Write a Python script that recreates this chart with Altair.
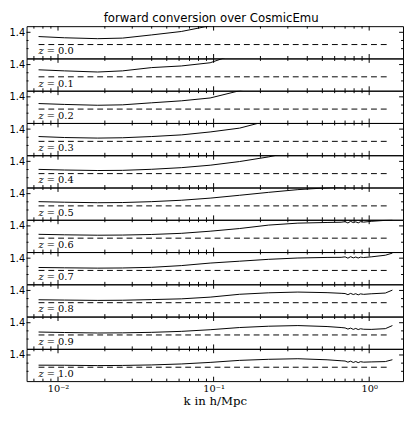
import altair as alt
import pandas as pd

TITLE = "forward conversion over CosmicEmu"
X_TITLE = "k in h/Mpc"
Z_LABELS = ["0.0", "0.1", "0.2", "0.3", "0.4", "0.5", "0.6", "0.7", "0.8", "0.9", "1.0"]

# wavenumbers (h/Mpc) at which the ratio curves were read
K = [0.0075, 0.011, 0.018, 0.026, 0.040, 0.062, 0.095, 0.147, 0.226, 0.348, 0.536, 0.66,
     0.70, 0.73, 0.76, 0.79, 0.82, 0.85, 0.88, 0.92, 1.03, 1.27, 1.41]

R_Z00 = [1.348, 1.333, 1.322, 1.329, 1.368, 1.410, 1.480, 1.65]
R_Z01 = [1.336, 1.323, 1.309, 1.323, 1.363, 1.383, 1.422, 1.546, 1.75]
R_Z02 = [1.318, 1.307, 1.297, 1.302, 1.327, 1.351, 1.386, 1.475, 1.60]
R_Z03 = [1.309, 1.297, 1.290, 1.294, 1.309, 1.329, 1.365, 1.412, 1.505, 1.62]
R_Z04 = [1.302, 1.294, 1.288, 1.290, 1.303, 1.323, 1.353, 1.398, 1.455, 1.53, 1.65]
R_Z05 = [1.302, 1.295, 1.289, 1.291, 1.302, 1.319, 1.345, 1.380, 1.416, 1.449, 1.471, 1.479,
         1.486, 1.478, 1.492, 1.484, 1.497, 1.490, 1.500, 1.505, 1.520, 1.550, 1.570]
R_Z06 = [1.297, 1.291, 1.286, 1.288, 1.295, 1.309, 1.335, 1.368, 1.410, 1.434, 1.442, 1.445,
         1.452, 1.436, 1.456, 1.440, 1.450, 1.437, 1.452, 1.446, 1.456, 1.468, 1.474]
R_Z07 = [1.286, 1.282, 1.278, 1.280, 1.288, 1.309, 1.340, 1.363, 1.386, 1.402, 1.409, 1.410,
         1.416, 1.400, 1.418, 1.404, 1.414, 1.402, 1.413, 1.408, 1.416, 1.436, 1.462]
R_Z08 = [1.286, 1.282, 1.278, 1.280, 1.288, 1.297, 1.318, 1.353, 1.371, 1.380, 1.373, 1.365,
         1.362, 1.348, 1.364, 1.350, 1.360, 1.346, 1.358, 1.352, 1.359, 1.368, 1.404]
R_Z09 = [1.286, 1.280, 1.274, 1.276, 1.282, 1.294, 1.314, 1.341, 1.357, 1.365, 1.353, 1.341,
         1.336, 1.322, 1.334, 1.318, 1.330, 1.316, 1.326, 1.320, 1.318, 1.327, 1.365]
R_Z10 = [1.275, 1.274, 1.270, 1.272, 1.278, 1.290, 1.309, 1.334, 1.347, 1.354, 1.341, 1.329,
         1.326, 1.312, 1.324, 1.308, 1.320, 1.306, 1.318, 1.312, 1.315, 1.319, 1.342]
RATIOS = [R_Z00, R_Z01, R_Z02, R_Z03, R_Z04, R_Z05, R_Z06, R_Z07, R_Z08, R_Z09, R_Z10]

DASH_K = [0.0075, 1.33]
DASH_LEVEL = 1.25
LABEL_K = 0.0075
LABEL_LEVEL = 1.13

X_DOMAIN = [0.00628, 1.65]
Y_DOMAIN = [1.08, 1.475]
X_MAJOR = [0.01, 0.1, 1.0]
X_MINOR = [0.007, 0.008, 0.009, 0.02, 0.03, 0.04, 0.05, 0.06, 0.07, 0.08, 0.09,
           0.2, 0.3, 0.4, 0.5, 0.6, 0.7, 0.8, 0.9]
X_TICK_LABELS = ["10⁻²", "10⁻¹", "10⁰"]
Y_MAJOR = [1.4]
Y_MINOR = [1.3, 1.2]

W, H = 385, 33
SERIF = "DejaVu Serif"
SANS = "DejaVu Sans"

xs = alt.Scale(type="log", domain=X_DOMAIN, nice=False)
ys = alt.Scale(domain=Y_DOMAIN, nice=False, zero=False)

label_expr = (f"datum.value < 0.05 ? '{X_TICK_LABELS[0]}' : "
              f"datum.value < 0.5 ? '{X_TICK_LABELS[1]}' : '{X_TICK_LABELS[2]}'")


def panel(i):
    last = i == len(RATIOS) - 1
    vals = RATIOS[i]
    df = pd.DataFrame({"k": K[:len(vals)], "v": vals})
    dash = pd.DataFrame({"k": DASH_K, "v": [DASH_LEVEL] * len(DASH_K)})
    lab = pd.DataFrame({"k": [LABEL_K], "v": [LABEL_LEVEL], "z": ["z"],
                        "rest": ["= " + Z_LABELS[i]]})
    xmaj = pd.DataFrame({"k": X_MAJOR})
    xmin = pd.DataFrame({"k": X_MINOR})
    ymaj = pd.DataFrame({"v": Y_MAJOR})
    ymin = pd.DataFrame({"v": Y_MINOR})

    if last:
        xaxis = alt.Axis(values=X_MAJOR, labelExpr=label_expr, ticks=False, domain=False,
                         grid=False, title=X_TITLE, labelFont=SERIF, labelFontSize=10,
                         labelPadding=3, labelColor="black", labelFlush=False,
                         titleFont=SERIF, titleFontSize=12, titleFontWeight="normal",
                         titleColor="black", titlePadding=2)
    else:
        xaxis = None
    yaxis = alt.Axis(values=Y_MAJOR, format=".1f", ticks=False, domain=False, grid=False,
                     title=None, labelFont=SANS, labelFontSize=10, labelPadding=2,
                     labelColor="black")

    X = alt.X("k:Q", scale=xs, axis=xaxis)
    Y = alt.Y("v:Q", scale=ys, axis=yaxis)

    solid = alt.Chart(df).mark_line(color="black", strokeWidth=1, clip=True).encode(x=X, y=Y)
    dashed = alt.Chart(dash).mark_line(color="black", strokeWidth=1, strokeDash=[6, 4],
                                       clip=True).encode(x=X, y=Y)
    tz = alt.Chart(lab).mark_text(font=SERIF, fontStyle="italic", fontSize=10, align="left",
                                  baseline="alphabetic", color="black").encode(
        x=X, y=Y, text="z:N")
    tr = alt.Chart(lab).mark_text(font=SERIF, fontSize=10, align="left", dx=8.4,
                                  baseline="alphabetic", color="black").encode(
        x=X, y=Y, text="rest:N")

    rk = dict(color="black", strokeWidth=1)
    xt = [
        alt.Chart(xmaj).mark_rule(**rk).encode(x=X, y=alt.value(0), y2=alt.value(4.5)),
        alt.Chart(xmaj).mark_rule(**rk).encode(x=X, y=alt.value(H), y2=alt.value(H - 4.5)),
        alt.Chart(xmin).mark_rule(**rk).encode(x=X, y=alt.value(0), y2=alt.value(2.5)),
        alt.Chart(xmin).mark_rule(**rk).encode(x=X, y=alt.value(H), y2=alt.value(H - 2.5)),
    ]
    yt = [
        alt.Chart(ymaj).mark_rule(**rk).encode(y=Y, x=alt.value(0), x2=alt.value(4)),
        alt.Chart(ymaj).mark_rule(**rk).encode(y=Y, x=alt.value(W), x2=alt.value(W - 4)),
        alt.Chart(ymin).mark_rule(**rk).encode(y=Y, x=alt.value(0), x2=alt.value(2)),
        alt.Chart(ymin).mark_rule(**rk).encode(y=Y, x=alt.value(W), x2=alt.value(W - 2)),
    ]
    return alt.layer(solid, dashed, tz, tr, *xt, *yt).properties(width=W, height=H)


chart = alt.vconcat(*[panel(i) for i in range(len(RATIOS))], spacing=0,
                    bounds="flush").properties(
    title=alt.TitleParams(TITLE, font=SANS, fontSize=12, fontWeight="normal",
                          anchor="middle", offset=0, dx=5, color="black"),
    padding={"left": 0, "top": 0, "right": 0, "bottom": 0},
    background="white",
).configure_view(stroke="black", strokeWidth=1)

chart.save("out.html", embed_options={"renderer": "svg", "actions": False})
